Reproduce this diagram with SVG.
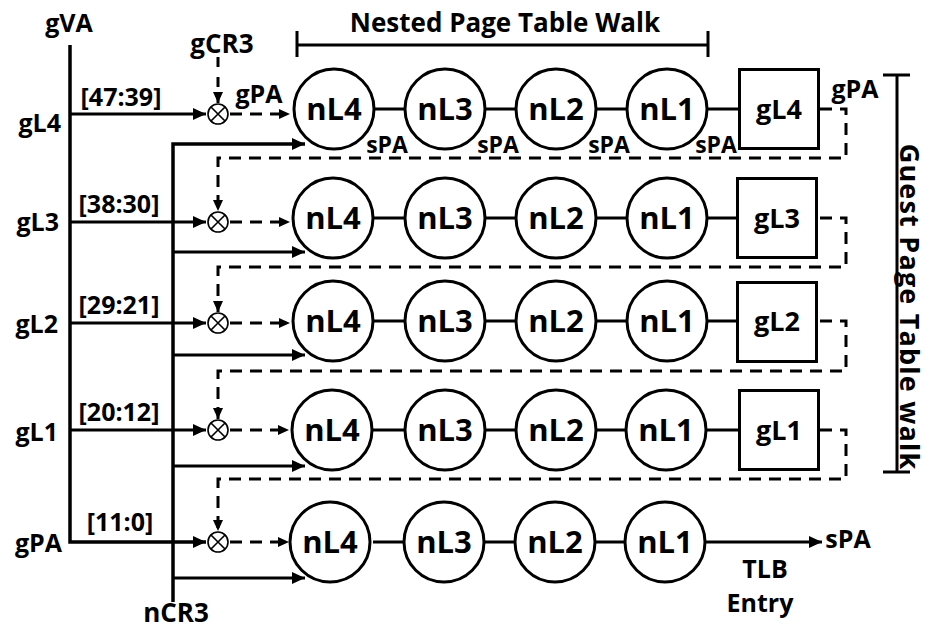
<svg xmlns="http://www.w3.org/2000/svg" width="930" height="634" viewBox="0 0 930 634">
  <style>
    text { font-family: "Open Sans", "Liberation Sans", sans-serif; font-weight: 700; fill: #000; }
    .lbl { font-size: 25px; }
    .bits { font-size: 25px; text-anchor: middle; }
    .spa { font-size: 23px; text-anchor: middle; }
    .node { font-size: 31px; text-anchor: middle; }
    .box { font-size: 27px; text-anchor: middle; }
    .title { font-size: 26px; text-anchor: middle; }
    .ln { fill: none; stroke: #000; stroke-width: 3; }
    .bus { fill: none; stroke: #000; stroke-width: 3.5; }
    .dash { fill: none; stroke: #000; stroke-width: 3; stroke-dasharray: 12 8; }
    .nl { fill: #fff; stroke: #000; stroke-width: 3; }
    .mul { fill: #fff; stroke: #000; stroke-width: 1.6; }
  </style>
  <defs>
    <marker id="arr" markerUnits="userSpaceOnUse" markerWidth="14" markerHeight="12" refX="13" refY="6" orient="auto">
      <path d="M0,0 L13,6 L0,12 z" fill="#000"/>
    </marker>
    <marker id="arrs" markerUnits="userSpaceOnUse" markerWidth="12" markerHeight="10" refX="11" refY="5" orient="auto">
      <path d="M0,0 L11,5 L0,10 z" fill="#000"/>
    </marker>
    <g id="mulop">
      <circle r="10" class="mul"/>
      <path d="M-7,-7 L7,7 M-7,7 L7,-7" stroke="#000" stroke-width="1.6"/>
    </g>
  </defs>

  <!-- brackets and titles -->
  <g id="nested-bracket">
    <text class="title" x="505" y="32">Nested Page Table Walk</text>
    <path class="ln" d="M297,45 H708 M297,31 V57 M708,31 V57"/>
  </g>
  <g id="guest-bracket">
    <path class="ln" d="M897,75 V472 M883,75 H910 M883,472 H910"/>
    <text class="title" style="font-size:27px; letter-spacing:1.2px" transform="translate(900,307) rotate(90)">Guest Page Table walk</text>
  </g>

  <!-- input labels -->
  <g id="labels">
    <text class="lbl" x="69" y="32" text-anchor="middle">gVA</text>
    <text class="lbl" style="font-size:26px" x="222" y="53" text-anchor="middle">gCR3</text>
    <text class="lbl" style="font-size:26px" x="176" y="622" text-anchor="middle">nCR3</text>
    <text class="lbl" x="61" y="132" text-anchor="end">gL4</text>
    <text class="lbl" x="59" y="231" text-anchor="end">gL3</text>
    <text class="lbl" x="58" y="333" text-anchor="end">gL2</text>
    <text class="lbl" x="58" y="441" text-anchor="end">gL1</text>
    <text class="lbl" x="62" y="552" text-anchor="end">gPA</text>
    <text class="bits" x="121" y="106">[47:39]</text>
    <text class="bits" x="119" y="213">[38:30]</text>
    <text class="bits" x="119" y="314">[29:21]</text>
    <text class="bits" x="119" y="421">[20:12]</text>
    <text class="bits" x="120" y="531">[11:0]</text>
    <text class="lbl" x="259" y="103" text-anchor="middle">gPA</text>
    <text class="lbl" x="855" y="98" text-anchor="middle">gPA</text>
    <text class="spa" x="387" y="153">sPA</text>
    <text class="spa" x="498" y="153">sPA</text>
    <text class="spa" x="609" y="153">sPA</text>
    <text class="spa" x="716" y="153">sPA</text>
    <text class="lbl" x="848" y="548" text-anchor="middle">sPA</text>
    <text class="lbl" x="765" y="578" text-anchor="middle">TLB</text>
    <text class="lbl" x="760" y="612" text-anchor="middle">Entry</text>
  </g>

  <!-- connectors -->
  <g id="connectors">
    <!-- gVA bus and index bit fields -->
    <path class="bus" d="M70,45 V542 H206" marker-end="url(#arr)"/>
    <path class="ln" d="M70,114 H206" marker-end="url(#arr)"/>
    <path class="ln" d="M70,222 H206" marker-end="url(#arr)"/>
    <path class="ln" d="M70,323 H206" marker-end="url(#arr)"/>
    <path class="ln" d="M70,430 H206" marker-end="url(#arr)"/>
    <!-- nCR3 bus -->
    <path class="bus" d="M173,602 V144 H305" marker-end="url(#arr)"/>
    <path class="ln" d="M173,252 H305" marker-end="url(#arr)"/>
    <path class="ln" d="M173,355 H305" marker-end="url(#arr)"/>
    <path class="ln" d="M173,466 H305" marker-end="url(#arr)"/>
    <path class="ln" d="M173,578 H305" marker-end="url(#arr)"/>
    <!-- gCR3 into first multiplier -->
    <path class="dash" style="stroke-dasharray:10 10" d="M218,57 V103" marker-end="url(#arrs)"/>
    <!-- multiplier outputs -->
    <path class="dash" d="M230,114 H290" marker-end="url(#arrs)"/>
    <path class="dash" d="M230,222 H290" marker-end="url(#arrs)"/>
    <path class="dash" d="M230,323 H290" marker-end="url(#arrs)"/>
    <path class="dash" d="M230,430 H289" marker-end="url(#arrs)"/>
    <path class="dash" d="M230,542 H289" marker-end="url(#arrs)"/>
    <!-- guest level results fed back -->
    <path class="dash" d="M820,109 H846 V158 H218 V211" marker-end="url(#arrs)"/>
    <path class="dash" d="M820,218 H846 V267 H218 V312" marker-end="url(#arrs)"/>
    <path class="dash" d="M820,321 H846 V371 H218 V419" marker-end="url(#arrs)"/>
    <path class="dash" d="M820,430 H846 V479 H218 V531" marker-end="url(#arrs)"/>
    <!-- nested chain links -->
    <path class="ln" d="M373,109 H405 M484,109 H516 M595,109 H627 M706,109 H739"/>
    <path class="ln" d="M373,218 H405 M484,218 H516 M595,218 H627 M706,218 H739"/>
    <path class="ln" d="M373,321 H405 M484,321 H516 M595,321 H627 M706,321 H739"/>
    <path class="ln" d="M373,430 H405 M484,430 H516 M595,430 H627 M706,430 H739"/>
    <path class="ln" d="M373,542 H405 M484,542 H516 M595,542 H627"/>
    <path class="ln" d="M706,542 H822" marker-end="url(#arr)"/>
  </g>

  <!-- multipliers -->
  <g id="mul1"><use href="#mulop" x="218" y="114"/></g>
  <g id="mul2"><use href="#mulop" x="218" y="222"/></g>
  <g id="mul3"><use href="#mulop" x="218" y="323"/></g>
  <g id="mul4"><use href="#mulop" x="218" y="430"/></g>
  <g id="mul5"><use href="#mulop" x="218" y="542"/></g>

  <!-- row 1 -->
  <g id="r1-nL4"><circle class="nl" cx="334" cy="109" r="40"/><text class="node" x="334" y="120">nL4</text></g>
  <g id="r1-nL3"><circle class="nl" cx="445" cy="109" r="40"/><text class="node" x="445" y="120">nL3</text></g>
  <g id="r1-nL2"><circle class="nl" cx="556" cy="109" r="40"/><text class="node" x="556" y="120">nL2</text></g>
  <g id="r1-nL1"><circle class="nl" cx="667" cy="109" r="40"/><text class="node" x="667" y="120">nL1</text></g>
  <g id="r1-gL4"><rect class="nl" x="739.5" y="69.5" width="79" height="79"/><text class="box" x="779" y="119">gL4</text></g>

  <!-- row 2 -->
  <g id="r2-nL4"><circle class="nl" cx="333" cy="218" r="40"/><text class="node" x="333" y="229">nL4</text></g>
  <g id="r2-nL3"><circle class="nl" cx="445" cy="218" r="40"/><text class="node" x="445" y="229">nL3</text></g>
  <g id="r2-nL2"><circle class="nl" cx="556" cy="218" r="40"/><text class="node" x="556" y="229">nL2</text></g>
  <g id="r2-nL1"><circle class="nl" cx="667" cy="218" r="40"/><text class="node" x="667" y="229">nL1</text></g>
  <g id="r2-gL3"><rect class="nl" x="737.5" y="178.5" width="79" height="79"/><text class="box" x="777" y="228">gL3</text></g>

  <!-- row 3 -->
  <g id="r3-nL4"><circle class="nl" cx="333" cy="321" r="40"/><text class="node" x="333" y="332">nL4</text></g>
  <g id="r3-nL3"><circle class="nl" cx="445" cy="321" r="40"/><text class="node" x="445" y="332">nL3</text></g>
  <g id="r3-nL2"><circle class="nl" cx="556" cy="321" r="40"/><text class="node" x="556" y="332">nL2</text></g>
  <g id="r3-nL1"><circle class="nl" cx="667" cy="321" r="40"/><text class="node" x="667" y="332">nL1</text></g>
  <g id="r3-gL2"><rect class="nl" x="737.5" y="282.5" width="79" height="79"/><text class="box" x="777" y="331">gL2</text></g>

  <!-- row 4 -->
  <g id="r4-nL4"><circle class="nl" cx="332" cy="430" r="40"/><text class="node" x="332" y="441">nL4</text></g>
  <g id="r4-nL3"><circle class="nl" cx="445" cy="430" r="40"/><text class="node" x="445" y="441">nL3</text></g>
  <g id="r4-nL2"><circle class="nl" cx="556" cy="430" r="40"/><text class="node" x="556" y="441">nL2</text></g>
  <g id="r4-nL1"><circle class="nl" cx="666" cy="430" r="40"/><text class="node" x="666" y="441">nL1</text></g>
  <g id="r4-gL1"><rect class="nl" x="739.5" y="390.5" width="79" height="79"/><text class="box" x="779" y="440">gL1</text></g>

  <!-- row 5 -->
  <g id="r5-nL4"><circle class="nl" cx="330" cy="542" r="40"/><text class="node" x="330" y="553">nL4</text></g>
  <g id="r5-nL3"><circle class="nl" cx="444" cy="542" r="40"/><text class="node" x="444" y="553">nL3</text></g>
  <g id="r5-nL2"><circle class="nl" cx="555" cy="542" r="40"/><text class="node" x="555" y="553">nL2</text></g>
  <g id="r5-nL1"><circle class="nl" cx="665" cy="542" r="40"/><text class="node" x="665" y="553">nL1</text></g>
</svg>
